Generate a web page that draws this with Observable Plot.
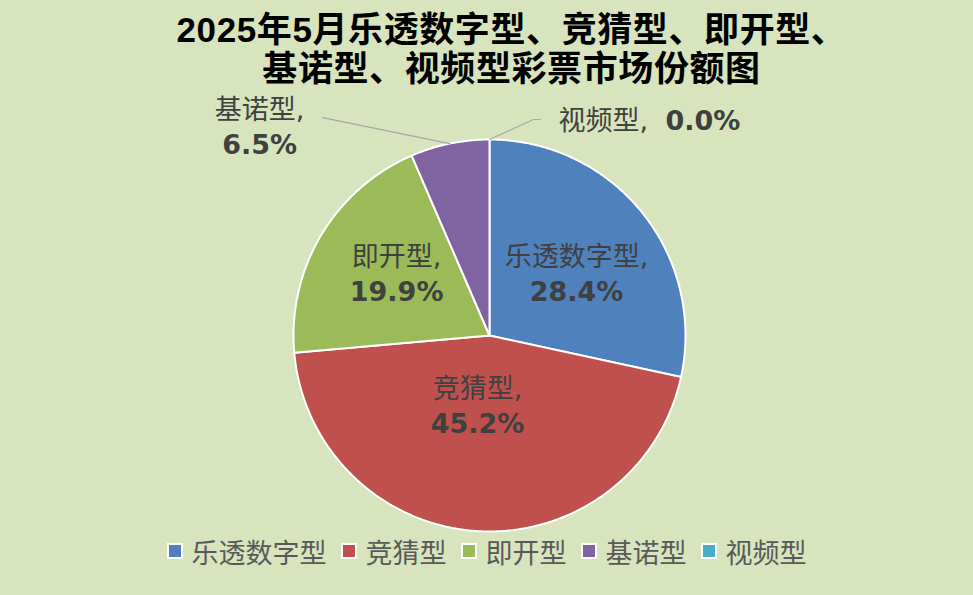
<!DOCTYPE html>
<html>
<head>
<meta charset="utf-8">
<script src="https://cdn.jsdelivr.net/npm/d3@7"></script>
<script src="https://cdn.jsdelivr.net/npm/@observablehq/plot@0.6"></script>
<style>
  html, body { margin: 0; padding: 0; background: #d7e4bd; }
  #wrap { width: 973px; height: 595px; background: #d7e4bd; overflow: hidden; }
  #title {
    padding-top: 10px; padding-left: 50px; height: 78px; text-align: center;
    font-family: "Liberation Sans", "Noto Sans CJK SC", sans-serif;
    font-weight: bold; font-size: 35px; line-height: 39px; color: #000;
    letter-spacing: 0.6px;
  }
  #chart svg { display: block; }
  #legend {
    display: flex; justify-content: center; align-items: center;
    height: 30px; font-family: "Noto Sans CJK SC", sans-serif;
    font-size: 27px; color: #595959; margin-top: -2px;
  }
  .item { display: flex; align-items: center; margin: 0 7px; }
  .sw { width: 12px; height: 12px; border: 2px solid #fff; margin-right: 9px; }
</style>
</head>
<body>
<div id="wrap">
  <div id="title">2025年5月乐透数字型、竞猜型、即开型、<br>基诺型、视频型彩票市场份额图</div>
  <div id="chart"></div>
  <div id="legend"></div>
</div>
<script>
// ---- data ----
const categories = ["乐透数字型", "竞猜型", "即开型", "基诺型", "视频型"];
const shares = [28.4, 45.2, 19.9, 6.5, 0.0];
const shareLabels = ["28.4%", "45.2%", "19.9%", "6.5%", "0.0%"];
const colors = ["#4f81bd", "#c0504d", "#9bbb59", "#8064a2", "#4bacc6"];

// ---- label layout (in units of pie radius) ----
const insideAnchors = {
  "乐透数字型": [0.444, 0.311],
  "竞猜型": [-0.061, -0.365],
  "即开型": [-0.474, 0.309],
  "基诺型": [-1.173, 1.059]
};
const leaderEnds = {
  "基诺型": [[-0.852, 1.112]],
  "视频型": [[0.224, 1.102], [0.26, 1.102]]
};
const inlineLabel = { "视频型": { name: [0.352, 1.092], value: [0.898, 1.092] } };

const LABEL_FONT = "DejaVu Sans, Noto Sans CJK SC, sans-serif";

const pie = d3.pie().sort(null).value(d => d.share);
const table = categories.map((c, i) => ({ name: c, share: shares[i], label: shareLabels[i], color: colors[i] }));
const arcs = pie(table);

function slicePoints(a) {
  const pts = [[0, 0]];
  const n = Math.max(2, Math.ceil((a.endAngle - a.startAngle) / 0.01));
  for (let k = 0; k <= n; k++) {
    const t = a.startAngle + (a.endAngle - a.startAngle) * k / n;
    pts.push([Math.sin(t), Math.cos(t)]);
  }
  pts.push([0, 0]);
  return pts;
}

const marks = [];
arcs.forEach(a => {
  if (a.endAngle - a.startAngle <= 0) return;
  marks.push(Plot.line(slicePoints(a), {
    x: d => d[0], y: d => d[1], fill: a.data.color,
    stroke: "#fff", strokeWidth: 2, strokeLinejoin: "round"
  }));
});

// leader lines
arcs.forEach(a => {
  const ends = leaderEnds[a.data.name];
  if (!ends) return;
  const mid = (a.startAngle + a.endAngle) / 2;
  const pts = [[Math.sin(mid), Math.cos(mid)], ...ends];
  marks.push(Plot.line(pts, { x: d => d[0], y: d => d[1], stroke: "#a6a6a6", strokeWidth: 1.2 }));
});

// two-line labels
const twoLine = arcs.filter(a => insideAnchors[a.data.name]).map(a => ({
  name: a.data.name, label: a.data.label,
  x: insideAnchors[a.data.name][0], y: insideAnchors[a.data.name][1]
}));
marks.push(Plot.text(twoLine, {
  x: "x", y: "y", text: d => d.name + ",", dy: -17.5,
  fontSize: 27, fontFamily: LABEL_FONT, fill: "#404040"
}));
marks.push(Plot.text(twoLine, {
  x: "x", y: "y", text: "label", dy: 17.5,
  fontSize: 27, fontWeight: "bold", fontFamily: LABEL_FONT, fill: "#404040"
}));

// inline label
const inl = arcs.filter(a => inlineLabel[a.data.name]).map(a => ({
  name: a.data.name, label: a.data.label, p: inlineLabel[a.data.name]
}));
marks.push(Plot.text(inl, {
  x: d => d.p.name[0], y: d => d.p.name[1], text: d => d.name + ",",
  textAnchor: "start", fontSize: 27, fontFamily: LABEL_FONT, fill: "#404040"
}));
marks.push(Plot.text(inl, {
  x: d => d.p.value[0], y: d => d.p.value[1], text: "label",
  textAnchor: "start", fontSize: 27, fontWeight: "bold", fontFamily: LABEL_FONT, fill: "#404040"
}));

const chart = Plot.plot({
  width: 973,
  height: 450,
  x: { domain: [-1, 1], range: [293, 685], axis: null },
  y: { domain: [-1, 1], range: [443, 51], axis: null },
  style: { background: "transparent", overflow: "visible" },
  marks
});
document.getElementById("chart").appendChild(chart);

// legend
const legend = document.getElementById("legend");
categories.forEach((c, i) => {
  const it = document.createElement("div");
  it.className = "item";
  const sw = document.createElement("span");
  sw.className = "sw";
  sw.style.background = colors[i];
  const tx = document.createElement("span");
  tx.textContent = c;
  it.appendChild(sw); it.appendChild(tx);
  legend.appendChild(it);
});
</script>
</body>
</html>
